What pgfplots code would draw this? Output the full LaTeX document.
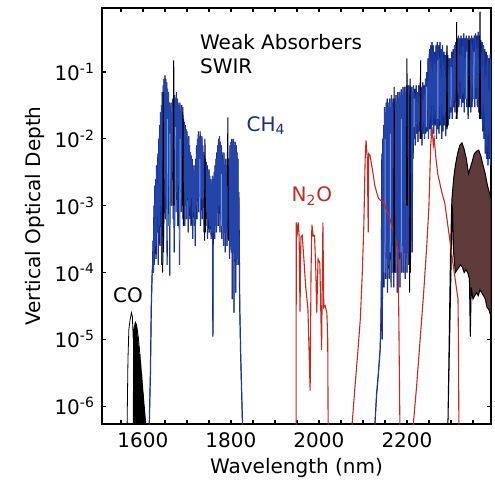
\documentclass[border=0pt]{standalone}
\usepackage{fontspec}
\setmainfont{DejaVu Sans}
\usepackage{pgfplots}
\pgfplotsset{compat=1.18}
\definecolor{chnavy}{HTML}{0E1C6E}
\definecolor{chblue}{HTML}{2444AA}
\definecolor{chlight}{HTML}{6E9BE0}
\definecolor{nred}{HTML}{C62A1E}
\definecolor{cobrown}{HTML}{5E3A3A}
\definecolor{chlabel}{HTML}{1B2F7E}
\pgfplotstableread{
x y
1614 4e-7
1617 3e-6
1619 3e-5
1621 1e-4
1622 1.3e-4
1623 3e-4
1624 1e-4
1625 1e-3
1626 1.3e-4
1627 2e-3
1628 2.5e-4
1629 2.5e-3
1630 1.6e-4
1631 4e-3
1632 4e-4
1634 6e-3
1635 1.3e-4
1636 1e-2
1637 5e-4
1638 1.6e-2
1639 2.5e-4
1640 2.5e-2
1641 1e-3
1642 3.2e-2
1643 1.3e-4
1644 5e-2
1645 1.6e-3
1646 6.3e-2
1647 3.2e-4
1648 7.9e-2
1649 2.5e-3
1650 8.9e-2
1651 6.3e-4
1652 7.9e-2
1653 3.2e-3
1654 7e-2
1655 1.3e-4
1656 5.6e-2
1657 2e-3
1658 5e-2
1659 5e-4
1660 3.5e-2
1661 9e-5
1662 3.2e-2
1663 2.5e-3
1664 3.5e-2
1665 1e-3
1666 2.5e-2
1667 3.2e-3
1668 4e-2
1669 6.3e-4
1670 4.5e-2
1671 2e-4
1672 4.5e-2
1673 2.5e-3
1674 4e-2
1675 8e-4
1676 5e-2
1677 1.6e-3
1678 4e-2
1679 5e-4
1680 3.5e-2
1681 2e-3
1682 3.2e-2
1683 1.3e-4
1684 3.5e-2
1685 1.6e-3
1686 2.8e-2
1687 8e-4
1688 3.2e-2
1689 1.3e-3
1690 2.5e-2
1691 6.3e-4
1692 2e-2
1693 1.6e-3
1694 1.8e-2
1695 5e-4
1696 1.6e-2
1697 1e-3
1698 1.4e-2
1699 6.3e-4
1700 1.3e-2
1701 1.3e-3
1702 1e-2
1703 4e-4
1704 1.1e-2
1705 6.3e-4
1706 8e-3
1707 1e-3
1708 6.3e-3
1709 5e-4
1710 5.6e-3
1711 1.3e-3
1712 5e-3
1713 3.2e-4
1714 3.5e-3
1715 8e-4
1716 4e-3
1717 5e-4
1718 3.2e-3
1719 2.5e-4
1720 5e-3
1721 1e-3
1722 8e-3
1723 6.3e-4
1724 1e-2
1725 1.3e-3
1726 1.3e-2
1727 8e-4
1728 1.1e-2
1729 1.6e-3
1730 1.3e-2
1731 5e-4
1732 1e-2
1733 1.3e-3
1734 1.1e-2
1735 6.3e-4
1736 8e-3
1737 1.3e-3
1738 6.3e-3
1739 4e-4
1740 5.6e-3
1741 1e-3
1742 5e-3
1743 5e-4
1744 4.5e-3
1745 8e-4
1746 4e-3
1747 3.2e-4
1748 3.2e-3
1749 6.3e-4
1750 3.5e-3
1751 4e-4
1752 2.8e-3
1753 5e-4
1754 2.5e-3
1755 3.2e-4
1756 2.2e-3
1757 4e-4
1758 2.8e-3
1759 1.1e-5
1760 2.5e-3
1761 4e-4
1762 3.2e-3
1763 3.2e-4
1764 4e-3
1765 5e-4
1766 5e-3
1767 4e-4
1768 6.3e-3
1769 8e-4
1770 8e-3
1771 5e-4
1772 1e-2
1773 1e-3
1774 1.1e-2
1775 4e-4
1776 9e-3
1777 6.3e-4
1778 8e-3
1779 3.2e-4
1780 6.3e-3
1781 5e-4
1782 5e-3
1783 2.5e-4
1784 6.3e-3
1785 4e-4
1786 4e-3
1787 2e-4
1788 5e-3
1789 4e-4
1790 4e-3
1791 2.5e-4
1792 6.3e-3
1793 1e-3
1794 3.2e-4
1796 5e-3
1797 1.6e-4
1798 8e-3
1799 2.5e-4
1800 9e-3
1801 2e-4
1802 1e-2
1803 4e-5
1804 9e-3
1805 2e-4
1806 1e-2
1807 2.5e-5
1808 8e-3
1809 1.6e-4
1810 9e-3
1811 5e-5
1812 8e-3
1813 1.3e-4
1814 6.3e-3
1815 1.6e-4
1816 5e-3
1817 1.3e-4
1818 1.6e-3
1820 3.2e-5
1822 6.3e-6
1824 2e-6
1826 6.3e-7
1828 3e-7
}\chone
\pgfplotstableread{
x y
2127 5e-7
2131 1.5e-6
2135 3e-6
2139 7e-6
2141 2e-5
2142 1e-4
2143 6e-3
2144 1e-5
2145 1e-2
2146 1e-4
2147 1.6e-2
2148 6e-5
2149 3e-2
2150 2e-4
2151 2.5e-2
2152 8e-5
2153 3.5e-2
2154 1.6e-4
2155 4e-2
2156 5e-5
2157 3e-2
2158 1.3e-4
2159 3.5e-2
2160 8e-5
2161 4e-2
2162 2e-4
2163 3e-2
2164 6e-5
2165 4.5e-2
2166 1e-4
2167 3.5e-2
2168 2.5e-4
2169 4e-2
2170 6e-5
2171 3e-2
2172 1.6e-4
2173 4e-2
2174 1e-4
2175 4.5e-2
2176 3e-4
2177 3.5e-2
2178 5e-5
2179 5e-2
2180 1.3e-4
2181 4e-2
2182 2e-4
2183 5e-2
2184 6e-5
2185 4.5e-2
2186 1.6e-4
2187 5.5e-2
2188 1e-4
2189 4.5e-2
2190 2.5e-4
2191 6e-2
2192 1e-4
2193 5e-2
2194 2e-4
2195 6e-2
2196 8e-5
2197 5e-2
2198 1.6e-4
2199 6.3e-2
2200 1e-4
2201 5.5e-2
2202 2e-4
2203 6.3e-2
2204 1.3e-4
2205 5.6e-2
2206 2.5e-4
2207 6.3e-2
2208 1.6e-4
2209 5e-2
2210 3e-4
2211 6e-2
2212 2e-4
2213 5e-2
2214 5e-3
2215 6.3e-2
2216 1e-2
2218 5.6e-2
2219 8e-3
2221 6.3e-2
2222 1.2e-2
2224 5e-2
2225 9e-3
2227 6.3e-2
2228 1.3e-2
2230 7e-2
2231 1e-2
2233 6e-2
2234 8e-3
2236 7e-2
2237 1.2e-2
2239 6.3e-2
2240 1e-2
2242 8e-2
2243 1.2e-2
2245 1e-1
2246 1.3e-2
2248 1.6e-1
2249 1e-2
2251 2.2e-1
2252 1.4e-2
2254 2.5e-1
2255 1.1e-2
2257 2.8e-1
2258 1.6e-2
2260 2.5e-1
2261 1.2e-2
2263 2e-1
2264 1.6e-2
2266 2.5e-1
2267 1e-2
2269 2.8e-1
2270 1.4e-2
2272 2.5e-1
2273 1.2e-2
2275 2.8e-1
2276 1.6e-2
2278 2.2e-1
2279 1e-2
2281 2.5e-1
2282 1.3e-2
2284 2e-1
2285 1.6e-2
2287 1.8e-1
2288 1.1e-2
2290 2e-1
2291 1.4e-2
2293 1.8e-1
2294 1.6e-2
2296 1.6e-1
2297 2e-2
2299 1.6e-1
2300 2.5e-2
2302 2e-1
2303 2e-2
2305 2.2e-1
2306 3e-2
2308 2.5e-1
2309 2.5e-2
2311 2.8e-1
2312 3.5e-2
2314 3.2e-1
2315 2.5e-2
2317 3.5e-1
2318 3e-2
2320 3.2e-1
2321 4e-2
2323 3.5e-1
2324 3e-2
2326 3.2e-1
2327 3.5e-2
2329 3.8e-1
2330 2.5e-2
2332 3.2e-1
2333 4e-2
2335 3.5e-1
2336 3e-2
2338 3.2e-1
2339 2e-2
2341 3e-1
2342 3.5e-2
2344 3.2e-1
2345 2.5e-2
2347 3.5e-1
2348 3e-2
2350 3.2e-1
2351 4e-2
2353 3.5e-1
2354 3e-2
2356 3.8e-1
2357 4e-2
2359 3.5e-1
2360 3e-2
2362 4e-1
2363 2.5e-2
2365 3.5e-1
2366 3e-2
2368 3e-1
2369 2e-2
2371 2.8e-1
2372 1.3e-2
2374 2.5e-1
2375 1e-2
2377 2.2e-1
2378 6e-3
2380 2e-1
2381 5e-3
2383 1.8e-1
2384 4e-3
2386 1.6e-1
2387 5e-3
2389 1.8e-1
2390 4e-3
2391 1.6e-1
}\chtwo
\begin{document}
\begin{tikzpicture}
\begin{axis}[
 scale only axis, width=194.5pt, height=208pt,
 xmin=1507, xmax=2391, ymode=log, ymin=5.4e-7, ymax=0.91,
 xtick={1600,1800,2000,2200},
 minor xtick={1550,1650,1700,1750,1850,1900,1950,2050,2100,2150,2250,2300,2350},
 ytick={1e-6,1e-5,1e-4,1e-3,1e-2,1e-1},
 yticklabels={10\textsuperscript{-6},10\textsuperscript{-5},10\textsuperscript{-4},10\textsuperscript{-3},10\textsuperscript{-2},10\textsuperscript{-1}},
 yminorticks=false,
 tick align=inside, major tick length=2pt, minor tick length=2pt,
 tick style={black, line width=0.6pt},
 axis line style={line width=0.75pt},
 every tick label/.append style={font=\fontsize{10}{11}\selectfont},
 xticklabel style={yshift=-1pt},
 /pgf/number format/assume math mode=true,
 /pgf/number format/1000 sep={},
 xlabel={Wavelength (nm)}, ylabel={Vertical Optical Depth},
 label style={font=\fontsize{10}{11}\selectfont},
 xlabel style={yshift=2pt},
 ylabel style={yshift=-2pt},
 unbounded coords=jump,
 ]
% CH4 band 1 and band 2: dark outline, then mid-blue body
\addplot[chnavy, line width=0.6pt] table {\chone};
\addplot[chblue, line width=0.3pt] table {\chone};
\addplot[chnavy, line width=0.6pt] table {\chtwo};
\addplot[chblue, line width=0.3pt] table {\chtwo};
% light blue streaks
\addplot[chlight, line width=0.5pt] coordinates {
(1655,3e-4)(1655.5,2e-2) (1655,nan)
(1661,5e-4)(1661.5,1.2e-2) (1661,nan)
(1673,5e-4)(1673.5,1.5e-2) (1673,nan)
(1684,3e-4)(1684.5,1e-2) (1684,nan)
(1729,8e-4)(1729.5,5e-3) (1729,nan)
(1778,5e-4)(1778.5,3e-3) (1778,nan)
(2150,1e-4)(2150.5,1e-2) (2150,nan)
(2162,2e-4)(2162.5,1.2e-2) (2162,nan)
(2187,2e-4)(2187.5,2e-2) (2187,nan)
(2216,1.5e-2)(2216.5,4e-2) (2216,nan)
(2244,1.5e-2)(2244.5,6e-2) (2244,nan)
(2270,2e-2)(2270.5,1.5e-1) (2270,nan)
(2300,3e-2)(2300.5,1.2e-1) (2300,nan)
(2335,4e-2)(2335.5,2e-1) (2335,nan)
(2352,4e-2)(2352.5,2e-1)
};
% CO band 2 (brown)
\addplot[fill=cobrown, draw=black, line width=0.5pt] coordinates {
(2293,5e-7)(2296,1e-5)(2299,2e-4)(2302,1.2e-3)(2306,2.5e-3)(2310,4e-3)(2315,6e-3)(2320,8e-3)(2325,8.7e-3)(2330,7e-3)(2335,5e-3)(2340,3e-3)(2343,3.5e-3)(2348,4.5e-3)(2353,6e-3)(2358,6.5e-3)(2363,6.8e-3)(2368,5.5e-3)(2373,4e-3)(2378,3e-3)(2383,2e-3)(2387,1.6e-3)(2391,1.3e-3)
(2391,2.2e-5)(2386,2.8e-5)(2382,3e-5)(2378,4e-5)(2374,4.5e-5)(2370,5e-5)(2366,5.5e-5)(2362,4.5e-5)(2358,5e-5)(2354,4.5e-5)(2350,4e-5)(2346,6e-5)(2344,1.1e-5)(2342,8e-5)(2338,1e-4)(2334,1.1e-4)(2330,1e-4)(2326,1.2e-4)(2322,1.3e-4)(2318,1.2e-4)(2314,1.1e-4)(2310,1e-4)(2306,2e-4)(2303,1e-3)
} -- cycle;
% CO band 1
\addplot[black, line width=0.4pt] coordinates {
(1564,5e-7)(1566,5e-6)(1568,1.4e-5)(1571,2e-5)(1574,2.5e-5)(1576,2.2e-5)(1578,1e-5)(1580,1.5e-5)(1583,1.8e-5)(1586,1.6e-5)(1590,1e-5)(1594,5e-6)(1598,2.5e-6)(1602,1.2e-6)(1606,6e-7)(1609,4e-7)
};
\addplot[black, line width=0.45pt] coordinates {
(1578,3e-7)(1579,1.2e-5)(1580,3e-7)(1581,1.5e-5)(1582,3e-7)(1583,1.8e-5)(1584,3e-7)(1585,1.7e-5)(1586,3e-7)(1587,1.4e-5)(1588,3e-7)(1589,1.1e-5)(1590,3e-7)(1591,8e-6)(1592,3e-7)(1593,6e-6)(1594,3e-7)(1595,4.5e-6)(1596,3e-7)(1597,3e-6)(1598,3e-7)(1599,2.2e-6)(1600,3e-7)(1601,1.5e-6)(1602,3e-7)(1603,1e-6)(1604,3e-7)(1606,6e-7)
};
% N2O bands
\addplot[nred, line width=0.55pt] coordinates {
(1948,3e-7)(1948.5,5.6e-4)(1951,4e-4)(1953,5.6e-4)(1955,3.4e-4)(1957,2.6e-5)(1959,3.4e-4)(1962,3.6e-4)(1966,1.5e-4)(1970,6e-5)(1975,2.8e-5)(1980,1.7e-6)(1982,1e-4)(1984,5.2e-4)(1987,3.5e-4)(1990,3.6e-4)(1993,1e-4)(1995,2.5e-5)(1998,1.6e-4)(2002,1.4e-4)(2006,6.9e-6)(2009,5.6e-4)(2011,3e-5)(2014,3.2e-5)(2018,2.5e-5)(2020,1e-5)(2021,3e-7)
};
\addplot[nred, line width=0.55pt] coordinates {
(2075,5e-7)(2082,2e-6)(2088,6e-6)(2094,2e-5)(2098,8e-5)(2102,5e-4)(2105,5e-3)(2107,9.5e-3)(2110,5e-3)(2112,4e-4)(2113,6e-3)(2116,5.7e-3)(2120,4e-3)(2123,3e-3)(2127,2e-3)(2131,1.6e-3)(2135,1.3e-3)(2140,1.2e-3)(2145,1.2e-3)(2150,1e-3)(2155,8e-4)(2160,7e-4)(2165,5e-4)(2170,4e-4)(2175,3e-4)(2180,2e-4)(2182,1e-5)(2184,5e-7)
};
\addplot[nred, line width=0.55pt] coordinates {
(2214,5e-7)(2222,2e-6)(2230,1e-5)(2238,5e-5)(2245,2.5e-4)(2250,1e-3)(2254,8e-3)(2257,1.5e-2)(2260,8e-3)(2262,1e-2)(2266,5e-3)(2270,3e-3)(2280,1.5e-3)(2286,1.1e-3)(2295,4e-4)(2305,1.3e-4)(2316,4e-5)(2317,1e-5)(2318,5e-7)
};
% black spikes
\addplot[black, line width=0.5pt] coordinates {
(1669,1e-3)(1670,0.15)(1671,1e-3) (1670,nan)
(1645,1e-4)(1646,5e-2)(1647,2e-4) (1646,nan)
(1690,1e-3)(1691,3e-2)(1692,5e-4) (1691,nan)
(1740,3e-4)(1741,1e-2)(1742,4e-4) (1741,nan)
(1792,2e-3)(1793,2.1e-2)(1794,3e-4) (1793,nan)
(2170,1e-4)(2171,6e-2)(2172,1e-4) (2171,nan)
(2199,1e-3)(2200,0.16)(2201,1e-3) (2200,nan)
(2206,5e-5)(2207,8e-2)(2208,1e-4) (2207,nan)
(2230,1e-2)(2231,1.5e-1)(2232,1e-2) (2231,nan)
(2290,1.5e-2)(2291,2.5e-1)(2292,1.5e-2) (2291,nan)
(2312,2e-2)(2313,0.56)(2314,2e-2) (2313,nan)
(2340,3e-2)(2341,3.5e-1)(2342,3e-2) (2341,nan)
(2365,2e-2)(2366,0.8)(2367,2e-2)
};
\node[anchor=west, inner sep=0pt, font=\fontsize{10}{11}\selectfont] at (axis cs:1729,0.28) {Weak Absorbers};
\node[anchor=west, inner sep=0pt, font=\fontsize{10}{11}\selectfont] at (axis cs:1729,0.123) {SWIR};
\node[font=\fontsize{10}{11}\selectfont, text=chlabel] at (axis cs:1880,1.6e-2) {CH\textsubscript{4}};
\node[font=\fontsize{10}{11}\selectfont, text=nred] at (axis cs:1984,1.4e-3) {N\textsubscript{2}O};
\node[font=\fontsize{10}{11}\selectfont] at (axis cs:1566,4.5e-5) {CO};
\end{axis}
\pgfresetboundingbox
\useasboundingbox (current axis.south west) ++(-51pt,-28pt) rectangle ([shift={(2pt,4pt)}]current axis.north east);
\end{tikzpicture}
\end{document}
